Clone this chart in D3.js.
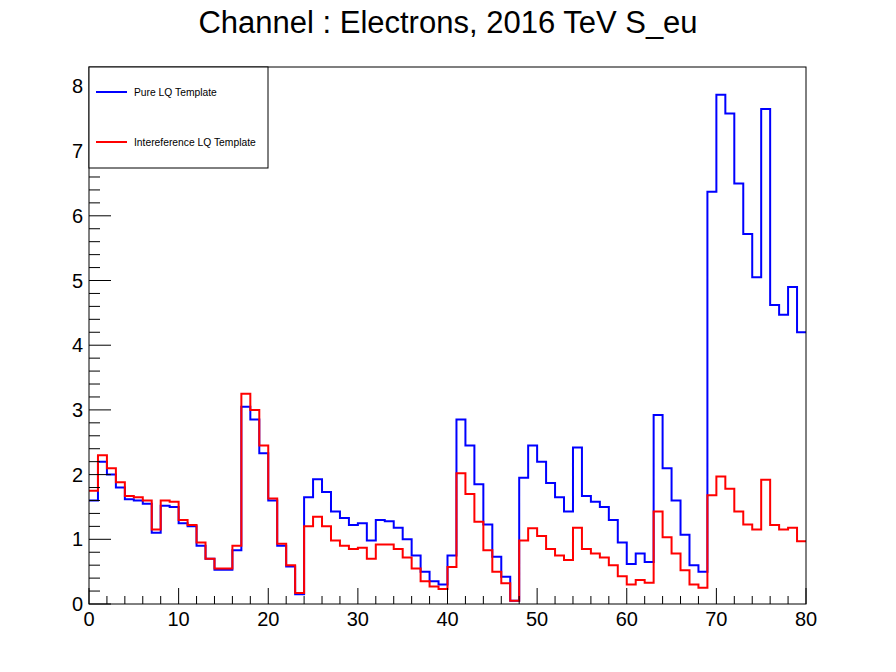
<!DOCTYPE html>
<html><head><meta charset="utf-8">
<script src="https://cdn.jsdelivr.net/npm/d3@7"></script>
<style>body{margin:0;background:#fff}text{font-family:"Liberation Sans",Arial,sans-serif}</style>
</head><body><div id="chart"></div>
<script>
const pure = [1.6,2.2,2.0,1.8,1.62,1.6,1.55,1.1,1.52,1.5,1.25,1.2,0.9,0.7,0.53,0.53,0.83,3.05,2.85,2.33,
  1.6,0.9,0.58,0.15,1.65,1.93,1.73,1.43,1.33,1.22,1.25,0.98,1.3,1.28,1.18,1.0,0.75,0.5,0.35,0.3,
  0.75,2.85,2.45,1.85,1.23,0.73,0.42,0.05,1.95,2.45,2.2,1.87,1.65,1.43,2.42,1.67,1.58,1.5,1.3,0.95,
  0.62,0.78,0.65,2.92,2.1,1.6,1.07,0.6,0.5,6.37,7.87,7.58,6.5,5.72,5.05,7.65,4.62,4.47,4.9,4.2];
const interf = [1.75,2.3,2.1,1.88,1.67,1.65,1.6,1.15,1.6,1.58,1.3,1.22,0.95,0.7,0.55,0.55,0.9,3.25,3.0,2.45,
  1.63,0.93,0.6,0.17,1.2,1.35,1.2,0.98,0.9,0.85,0.87,0.7,0.92,0.92,0.85,0.72,0.55,0.35,0.27,0.23,
  0.57,2.02,1.7,1.27,0.83,0.5,0.32,0.05,0.98,1.17,1.05,0.85,0.75,0.68,1.18,0.85,0.78,0.72,0.6,0.43,
  0.3,0.37,0.33,1.43,1.03,0.78,0.52,0.3,0.25,1.68,1.97,1.78,1.43,1.23,1.15,1.92,1.22,1.15,1.18,0.97];
const xTicks = [0,10,20,30,40,50,60,70,80];
const yTicks = [0,1,2,3,4,5,6,7,8];
const series = [
  {name: 'Pure LQ Template', values: pure, color: '#0000ff'},
  {name: 'Intereference LQ Template', values: interf, color: '#ff0000'}
];

const W = 896, H = 672, L = 89, R = 806, T = 67, B = 604;
const svg = d3.select('#chart').append('svg').attr('width', W).attr('height', H);
const x = d3.scaleLinear().domain([0, 80]).range([L, R]);
const y = d3.scaleLinear().domain([0, 8.3]).range([B, T]);

svg.append('text').attr('x', W / 2).attr('y', 33).attr('text-anchor', 'middle')
  .attr('font-size', 31).text('Channel : Electrons, 2016 TeV S_eu');

// histograms
series.forEach(s => {
  const pts = s.values.map((v, i) => [i, v]);
  pts.push([80, s.values[79]]);
  const line = d3.line().x(d => x(d[0])).y(d => y(d[1])).curve(d3.curveStepAfter);
  svg.append('path').attr('d', line(pts)).attr('fill', 'none')
    .attr('stroke', s.color).attr('stroke-width', 2);
});

// frame
svg.append('rect').attr('x', L).attr('y', T).attr('width', R - L).attr('height', B - T)
  .attr('fill', 'none').attr('stroke', '#000').attr('stroke-width', 1);

// x ticks
const xAxis = svg.append('g');
d3.range(0, 81, 2).forEach(v => {
  const major = v % 10 === 0;
  xAxis.append('line').attr('x1', x(v)).attr('x2', x(v)).attr('y1', B).attr('y2', B - (major ? 16 : 8))
    .attr('stroke', '#000');
});
xTicks.forEach(v => xAxis.append('text').attr('x', x(v)).attr('y', B + 22).attr('text-anchor', 'middle')
  .attr('font-size', 20).text(v));

// y ticks
const yAxis = svg.append('g');
d3.range(0, 8.3, 0.2).forEach(v => {
  const major = Math.abs(v - Math.round(v)) < 1e-6;
  yAxis.append('line').attr('x1', L).attr('x2', L + (major ? 22 : 11)).attr('y1', y(v)).attr('y2', y(v))
    .attr('stroke', '#000');
});
yTicks.forEach(v => yAxis.append('text').attr('x', L - 6).attr('y', y(v) + 7).attr('text-anchor', 'end')
  .attr('font-size', 20).text(v));

// legend
const lg = svg.append('g');
lg.append('rect').attr('x', L).attr('y', T).attr('width', 179).attr('height', 101)
  .attr('fill', '#fff').attr('stroke', '#000');
series.forEach((s, i) => {
  const yy = 92 + i * 50;
  lg.append('line').attr('x1', 96).attr('x2', 127).attr('y1', yy).attr('y2', yy)
    .attr('stroke', s.color).attr('stroke-width', 2);
  lg.append('text').attr('x', 134).attr('y', yy + 3.5).attr('font-size', 10.3).text(s.name);
});
</script></body></html>
